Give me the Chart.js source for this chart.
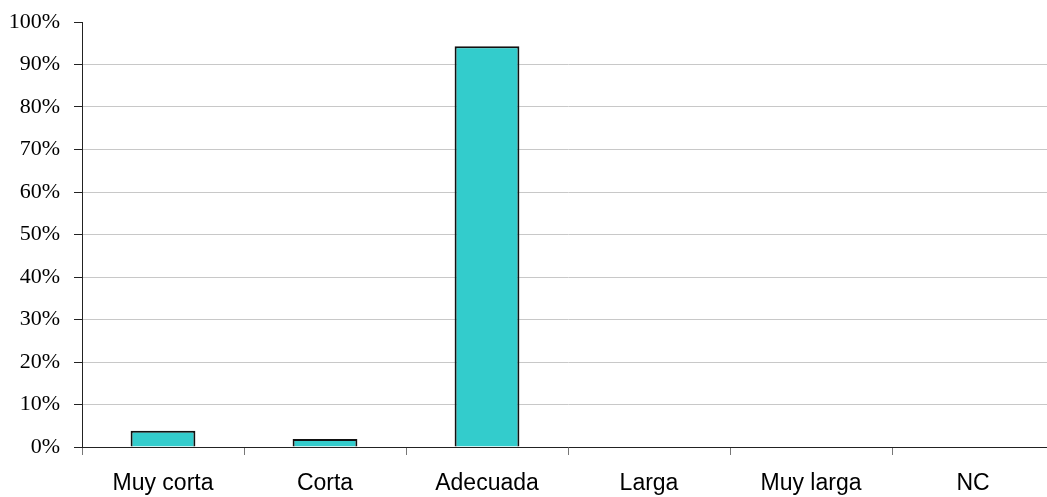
<!DOCTYPE html>
<html lang="es">
<head>
    <meta charset="UTF-8">
    <title>Duración</title>
    <script src="https://cdn.jsdelivr.net/npm/chart.js@4"></script>
    <style>
      html, body { margin: 0; padding: 0; background: #fff; overflow: hidden; }
    </style>
</head>
<body>
    <canvas id="myChart" width="1060" height="497" style="width:1060px;height:497px"></canvas>
    <script>
        // categorías y valores (%)
        const categories = ['Muy corta', 'Corta', 'Adecuada', 'Larga', 'Muy larga', 'NC'];
        const values = [3.8, 1.9, 94.3, 0, 0, 0];
        const yTicks = [0, 10, 20, 30, 40, 50, 60, 70, 80, 90, 100];

        const ctx = document.getElementById('myChart').getContext('2d');
        new Chart(ctx, {
          type: 'bar',
          data: {
            labels: categories,
            datasets: [{
              data: values,
              backgroundColor: '#33CCCC',
              borderColor: '#111',
              borderWidth: 2,
              borderSkipped: 'bottom',
              categoryPercentage: 1,
              barPercentage: 0.4
            }]
          },
          options: {
            responsive: false,
            animation: false,
            layout: { autoPadding: false, padding: { left: 0, top: 22, right: 6, bottom: 0 } },
            plugins: { legend: { display: false }, tooltip: { enabled: false } },
            scales: {
              x: {
                grid: { offset: true, drawOnChartArea: false, tickLength: 8, tickColor: '#777', lineWidth: 1 },
                border: { color: '#222', width: 1 },
                ticks: { color: '#000', padding: 15, font: { family: 'Liberation Sans', size: 23 } },
                afterFit: s => { s.height = 50; }
              },
              y: {
                min: 0, max: 100,
                afterBuildTicks: s => { s.ticks = yTicks.map(v => ({ value: v })); },
                grid: {
                  color: c => (c.tick && c.tick.value === 100) ? 'rgba(0,0,0,0)' : '#c8c8c8',
                  tickLength: 8, tickColor: '#222', lineWidth: 1
                },
                border: { color: '#222', width: 1 },
                ticks: {
                  color: '#000', padding: 14,
                  font: { family: 'Liberation Serif', size: 22 },
                  callback: v => v + '%'
                },
                afterFit: s => { s.width = 82; s.paddingTop = 0; s.paddingBottom = 0; }
              }
            }
          }
        });
    </script>
</body>
</html>
